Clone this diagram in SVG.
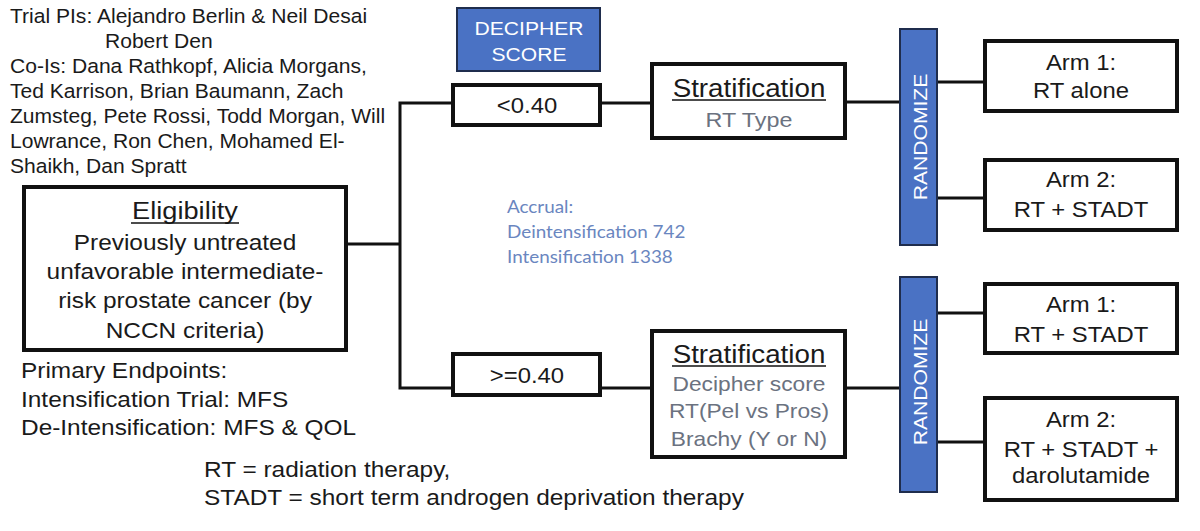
<svg xmlns="http://www.w3.org/2000/svg" width="1200" height="531" viewBox="0 0 1200 531">
<style>
text{font-family:"Liberation Sans",Arial,sans-serif;fill:#1a1a1a}
.box{fill:#fff;stroke:#111;stroke-width:4}
.bar{fill:#4a72c4;stroke:#1f2d4d;stroke-width:2}
.conn{stroke:#111;stroke-width:3;fill:none}
.c{text-anchor:middle}
.g{fill:#6b7280}
.w{fill:#fff}
.acc{font-family:Lato,"Open Sans",sans-serif;fill:#6a86c0;font-size:17px}
.ul{stroke:#111;stroke-width:1.5}
</style>
<g id="connectors">
<polyline class="conn" points="348,244 400,244"/>
<polyline class="conn" points="453,103 400,103 400,388 453,388"/>
<line class="conn" x1="600" y1="103" x2="652" y2="103"/>
<line class="conn" x1="600" y1="388" x2="652" y2="388"/>
<line class="conn" x1="845" y1="102" x2="900" y2="102"/>
<line class="conn" x1="845" y1="388" x2="900" y2="388"/>
<line class="conn" x1="937" y1="82" x2="985" y2="82"/>
<line class="conn" x1="937" y1="198" x2="985" y2="198"/>
<line class="conn" x1="937" y1="313" x2="985" y2="313"/>
<line class="conn" x1="937" y1="442" x2="985" y2="442"/>
</g>
<g id="investigators" font-size="19.5">
<text transform="translate(10 23) scale(1.08 1)">Trial PIs: Alejandro Berlin &amp; Neil Desai</text>
<text transform="translate(105 48) scale(1.08 1)">Robert Den</text>
<text transform="translate(10 73) scale(1.08 1)">Co-Is: Dana Rathkopf, Alicia Morgans,</text>
<text transform="translate(10 98) scale(1.08 1)">Ted Karrison, Brian Baumann, Zach</text>
<text transform="translate(10 123) scale(1.08 1)">Zumsteg, Pete Rossi, Todd Morgan, Will</text>
<text transform="translate(10 148) scale(1.08 1)">Lowrance, Ron Chen, Mohamed El-</text>
<text transform="translate(10 173) scale(1.08 1)">Shaikh, Dan Spratt</text>
</g>
<g id="eligibility" font-size="22">
<rect class="box" x="24" y="187" width="322" height="163"/>
<text class="c" transform="translate(185 219) scale(1.11 1)" font-size="24.5">Eligibility</text>
<line class="ul" x1="131" y1="223" x2="239" y2="223"/>
<text class="c" transform="translate(185 250) scale(1.11 1)">Previously untreated</text>
<text class="c" transform="translate(185 279) scale(1.11 1)">unfavorable intermediate-</text>
<text class="c" transform="translate(185 308) scale(1.11 1)">risk prostate cancer (by</text>
<text class="c" transform="translate(185 338) scale(1.11 1)">NCCN criteria)</text>
</g>
<g id="endpoints" font-size="22">
<text transform="translate(21 378) scale(1.11 1)">Primary Endpoints:</text>
<text transform="translate(21 407) scale(1.11 1)">Intensification Trial: MFS</text>
<text transform="translate(21 435) scale(1.11 1)">De-Intensification: MFS &amp; QOL</text>
</g>
<g id="abbreviations" font-size="22">
<text transform="translate(204 477) scale(1.11 1)">RT = radiation therapy,</text>
<text transform="translate(204 505) scale(1.11 1)">STADT = short term androgen deprivation therapy</text>
</g>
<g id="decipher" font-size="19">
<rect class="bar" x="457" y="8" width="143" height="63"/>
<text class="c w" transform="translate(529 35) scale(1.11 1)">DECIPHER</text>
<text class="c w" transform="translate(529 61) scale(1.11 1)">SCORE</text>
</g>
<g id="low" font-size="21.5">
<rect class="box" x="453" y="85" width="147" height="40"/>
<text class="c" transform="translate(527 113) scale(1.11 1)">&lt;0.40</text>
</g>
<g id="high" font-size="21.5">
<rect class="box" x="453" y="354" width="147" height="41"/>
<text class="c" transform="translate(527 383) scale(1.11 1)">&gt;=0.40</text>
</g>
<g id="accrual">
<text class="acc" transform="translate(507 213) scale(1.11 1)">Accrual:</text>
<text class="acc" transform="translate(507 238) scale(1.11 1)">Deintensification 742</text>
<text class="acc" transform="translate(507 263) scale(1.11 1)">Intensification 1338</text>
</g>
<g id="strat-top">
<rect class="box" x="652" y="64" width="193" height="74"/>
<text class="c" transform="translate(749 97) scale(1.11 1)" font-size="25">Stratification</text>
<line class="ul" x1="672" y1="100" x2="826" y2="100"/>
<text class="c g" transform="translate(749 127) scale(1.11 1)" font-size="21">RT Type</text>
</g>
<g id="strat-bottom">
<rect class="box" x="652" y="331" width="193" height="126"/>
<text class="c" transform="translate(749 363) scale(1.11 1)" font-size="25">Stratification</text>
<line class="ul" x1="672" y1="366" x2="826" y2="366"/>
<text class="c g" transform="translate(749 391) scale(1.11 1)" font-size="20.5">Decipher score</text>
<text class="c g" transform="translate(749 418) scale(1.11 1)" font-size="20.5">RT(Pel vs Pros)</text>
<text class="c g" transform="translate(749 446) scale(1.11 1)" font-size="20.5">Brachy (Y or N)</text>
</g>
<g id="randomize-top">
<rect class="bar" x="900" y="29" width="37" height="216"/>
<text class="c w" transform="translate(927 137) rotate(-90) scale(1.11 1)" font-size="19">RANDOMIZE</text>
</g>
<g id="randomize-bottom">
<rect class="bar" x="900" y="277" width="37" height="215"/>
<text class="c w" transform="translate(927 382) rotate(-90) scale(1.11 1)" font-size="19">RANDOMIZE</text>
</g>
<g id="arm1-top" font-size="21.5">
<rect class="box" x="985" y="41" width="192" height="70"/>
<text class="c" transform="translate(1081 70) scale(1.11 1)">Arm 1:</text>
<text class="c" transform="translate(1081 98) scale(1.11 1)">RT alone</text>
</g>
<g id="arm2-top" font-size="21.5">
<rect class="box" x="985" y="160" width="192" height="70"/>
<text class="c" transform="translate(1081 187) scale(1.11 1)">Arm 2:</text>
<text class="c" transform="translate(1081 217) scale(1.11 1)">RT + STADT</text>
</g>
<g id="arm1-bottom" font-size="21.5">
<rect class="box" x="985" y="284" width="192" height="69"/>
<text class="c" transform="translate(1081 312) scale(1.11 1)">Arm 1:</text>
<text class="c" transform="translate(1081 342) scale(1.11 1)">RT + STADT</text>
</g>
<g id="arm2-bottom" font-size="21.5">
<rect class="box" x="985" y="398" width="192" height="102"/>
<text class="c" transform="translate(1081 427) scale(1.11 1)">Arm 2:</text>
<text class="c" transform="translate(1081 457) scale(1.11 1)">RT + STADT +</text>
<text class="c" transform="translate(1081 483) scale(1.11 1)">darolutamide</text>
</g>
</svg>
